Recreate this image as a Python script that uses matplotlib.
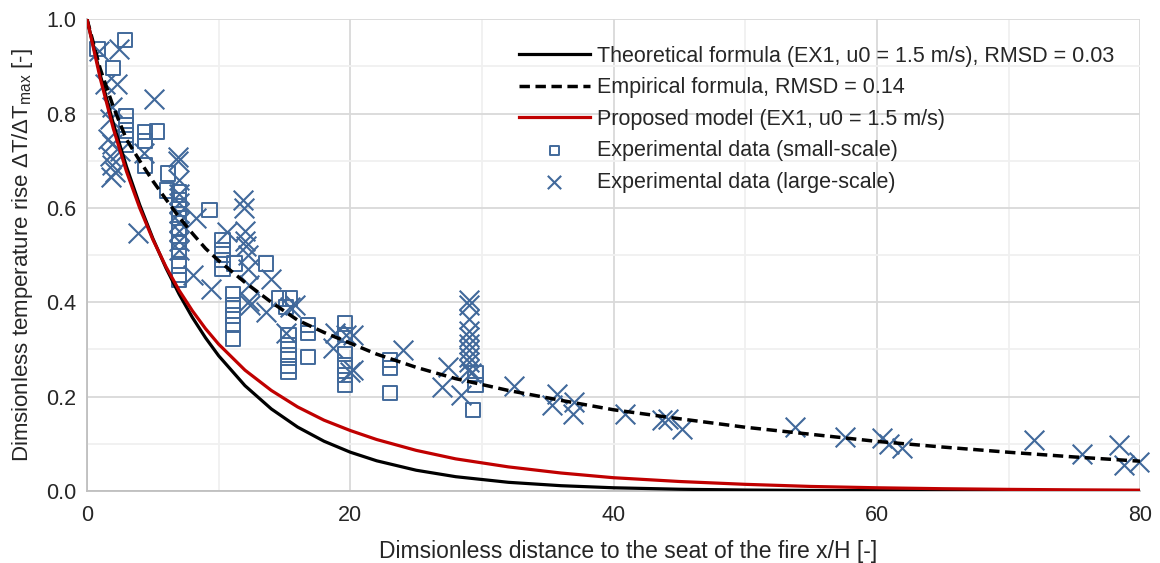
import matplotlib.pyplot as plt
from matplotlib.ticker import MultipleLocator

plt.rcParams["font.family"] = ["Liberation Sans", "DejaVu Sans"]
plt.rcParams["mathtext.fontset"] = "custom"
plt.rcParams["mathtext.rm"] = "Liberation Sans"

# Model curves, sampled along x/H
X_CURVE = [0, 1, 2, 3, 4, 5, 6, 7, 8, 9, 10, 12, 14, 16, 18, 20, 22, 25, 28,
           32, 36, 40, 45, 50, 55, 60, 65, 70, 75, 80]
THEORETICAL = [1.0, 0.8825, 0.7788, 0.6873, 0.6065, 0.5353, 0.4724, 0.4169,
               0.3679, 0.3247, 0.2865, 0.2231, 0.1738, 0.1353, 0.1054, 0.0821,
               0.0639, 0.0439, 0.0302, 0.0183, 0.0111, 0.0067, 0.0036, 0.0019,
               0.0010, 0.0006, 0.0003, 0.0002, 0.0001, 0.0]
EMPIRICAL = [1.0, 0.895, 0.814, 0.745, 0.700, 0.657, 0.618, 0.58, 0.546,
             0.514, 0.488, 0.442, 0.400, 0.362, 0.336, 0.313, 0.290, 0.262,
             0.238, 0.213, 0.192, 0.172, 0.153, 0.135, 0.120, 0.105, 0.093,
             0.082, 0.072, 0.063]
PROPOSED = [1.0, 0.875, 0.768, 0.677, 0.600, 0.533, 0.475, 0.425, 0.382,
            0.344, 0.311, 0.256, 0.213, 0.178, 0.150, 0.128, 0.109, 0.086,
            0.068, 0.051, 0.038, 0.028, 0.020, 0.014, 0.0095, 0.0067, 0.0047,
            0.0033, 0.0023, 0.0016]

# Small-scale experiments
SMALL_X = [0.8, 2.9, 1.95, 2.95, 2.95, 2.95, 2.95, 4.38, 4.38, 4.38, 5.3,
           6.15, 6.05,
           7.0, 7.0, 7.0, 7.0, 7.0, 7.0, 7.0, 7.0, 7.0, 7.0,
           9.3, 10.3, 10.3, 10.3, 10.3, 11.2, 13.6,
           11.1, 11.1, 11.1, 11.1, 11.1,
           14.6, 15.4, 15.1, 16.8, 16.8,
           15.3, 15.3, 15.3, 15.3, 15.3, 16.8,
           19.6, 19.6, 19.6, 19.6, 19.6, 19.6,
           23.0, 23.0, 23.0,
           29.5, 29.5, 29.3]
SMALL_Y = [0.937, 0.955, 0.897, 0.795, 0.776, 0.754, 0.733, 0.76, 0.742, 0.69,
           0.762, 0.673, 0.637,
           0.634, 0.616, 0.597, 0.578, 0.555, 0.528, 0.51, 0.476, 0.457, 0.447,
           0.595, 0.532, 0.51, 0.489, 0.471, 0.482, 0.482,
           0.418, 0.394, 0.372, 0.351, 0.323,
           0.408, 0.408, 0.39, 0.351, 0.334,
           0.33, 0.309, 0.288, 0.265, 0.252, 0.284,
           0.355, 0.33, 0.291, 0.266, 0.245, 0.224,
           0.277, 0.261, 0.208,
           0.249, 0.225, 0.171]

# Large-scale experiments
LARGE_X = [0.88, 2.4, 1.39, 2.27, 5.06, 1.9, 1.77, 1.6, 1.9, 1.75, 1.9, 1.8,
           2.1, 4.3, 3.9, 2.5,
           6.9, 6.9, 7.0, 7.0, 7.0, 7.0, 7.0, 7.0, 7.0, 7.0,
           8.3, 8.05, 9.45, 10.6, 11.85, 11.9, 12.0, 12.0, 12.1, 12.2, 12.2,
           12.3, 12.3, 12.4, 13.6, 14.0, 15.1, 15.8, 15.4, 18.7, 18.8, 19.7,
           20.2, 20.2, 19.95, 24.0,
           29.0, 29.0, 29.0, 29.0, 29.0, 29.0, 29.0, 29.0, 29.0, 29.0, 29.2,
           27.4, 27.0, 28.4, 32.4, 35.7, 35.3, 37.0, 36.9, 40.9, 43.7, 44.1,
           45.2, 53.8, 57.6, 60.4, 60.9, 61.9, 71.9, 75.6, 78.4, 78.8, 79.9]
LARGE_Y = [0.933, 0.937, 0.862, 0.862, 0.83, 0.813, 0.788, 0.745, 0.735,
           0.71, 0.69, 0.665, 0.675, 0.717, 0.546, 0.72,
           0.708, 0.70, 0.66, 0.63, 0.61, 0.59, 0.57, 0.55, 0.53, 0.51,
           0.578, 0.457, 0.429, 0.549, 0.616, 0.60, 0.55, 0.53, 0.52, 0.50,
           0.471, 0.436, 0.402, 0.394, 0.38, 0.45, 0.334, 0.394, 0.39, 0.302,
           0.334, 0.33, 0.33, 0.256, 0.252, 0.298,
           0.404, 0.394, 0.365, 0.34, 0.327, 0.312, 0.298, 0.284, 0.274,
           0.259, 0.25,
           0.263, 0.221, 0.203, 0.222, 0.206, 0.182, 0.189, 0.164, 0.164,
           0.15, 0.153, 0.132, 0.136, 0.115, 0.112, 0.1, 0.09, 0.109, 0.079,
           0.097, 0.054, 0.062]

BLUE = "#41699b"
TEXT = "#262626"

fig = plt.figure(figsize=(11.6, 5.63), dpi=100)
ax = fig.add_axes([0.075, 0.128, 0.908, 0.838])

ax.plot(X_CURVE, THEORETICAL, color="black", lw=2.3, zorder=4,
        label="Theoretical formula (EX1, u0 = 1.5 m/s), RMSD = 0.03")
ax.plot(X_CURVE, EMPIRICAL, color="black", lw=2.5, dashes=(3, 1.6), zorder=4,
        label="Empirical formula, RMSD = 0.14")
ax.plot(X_CURVE, PROPOSED, color="#c00000", lw=2.3, zorder=4,
        label="Proposed model (EX1, u0 = 1.5 m/s)")
ax.scatter(SMALL_X, SMALL_Y, s=105, marker="s", facecolors="none",
           edgecolors=BLUE, linewidths=1.4, zorder=3, clip_on=False,
           label="Experimental data (small-scale)")
ax.scatter(LARGE_X, LARGE_Y, s=200, marker="x", color=BLUE, linewidths=1.5,
           zorder=3, clip_on=False, label="Experimental data (large-scale)")

ax.set_xlim(0, 80)
ax.set_ylim(0, 1.0)
ax.xaxis.set_major_locator(MultipleLocator(20))
ax.xaxis.set_minor_locator(MultipleLocator(10))
ax.yaxis.set_major_locator(MultipleLocator(0.2))
ax.yaxis.set_minor_locator(MultipleLocator(0.1))
ax.yaxis.set_major_formatter(lambda v, _: f"{v:.1f}")
ax.grid(which="major", color="#d9d9d9", lw=1.3)
ax.grid(which="minor", color="#f0f0f0", lw=1.3)
ax.set_axisbelow(True)
ax.tick_params(which="both", length=0, labelsize=15.5, pad=8, colors=TEXT)
ax.tick_params(axis="x", pad=10)
for side in ("top", "right"):
    ax.spines[side].set_visible(False)
for side in ("left", "bottom"):
    ax.spines[side].set_color("#bfbfbf")
    ax.spines[side].set_linewidth(1.3)

ax.set_xlabel("Dimsionless distance to the seat of the fire x/H [-]",
              fontsize=16.5, color=TEXT)
ax.xaxis.set_label_coords(0.514, -0.105)
ax.set_ylabel(r"Dimsionless temperature rise ΔT/ΔT$_\mathregular{max}$ [-]",
              fontsize=16, color=TEXT, labelpad=8)

leg = ax.legend(loc="upper left", bbox_to_anchor=(0.41, 0.944),
                frameon=False, fontsize=15.5, handlelength=3.3,
                handletextpad=0.33, labelspacing=0.49, markerscale=0.68,
                borderpad=0, borderaxespad=0)
for text in leg.get_texts():
    text.set_color(TEXT)

fig.savefig("out.png", dpi=100)
